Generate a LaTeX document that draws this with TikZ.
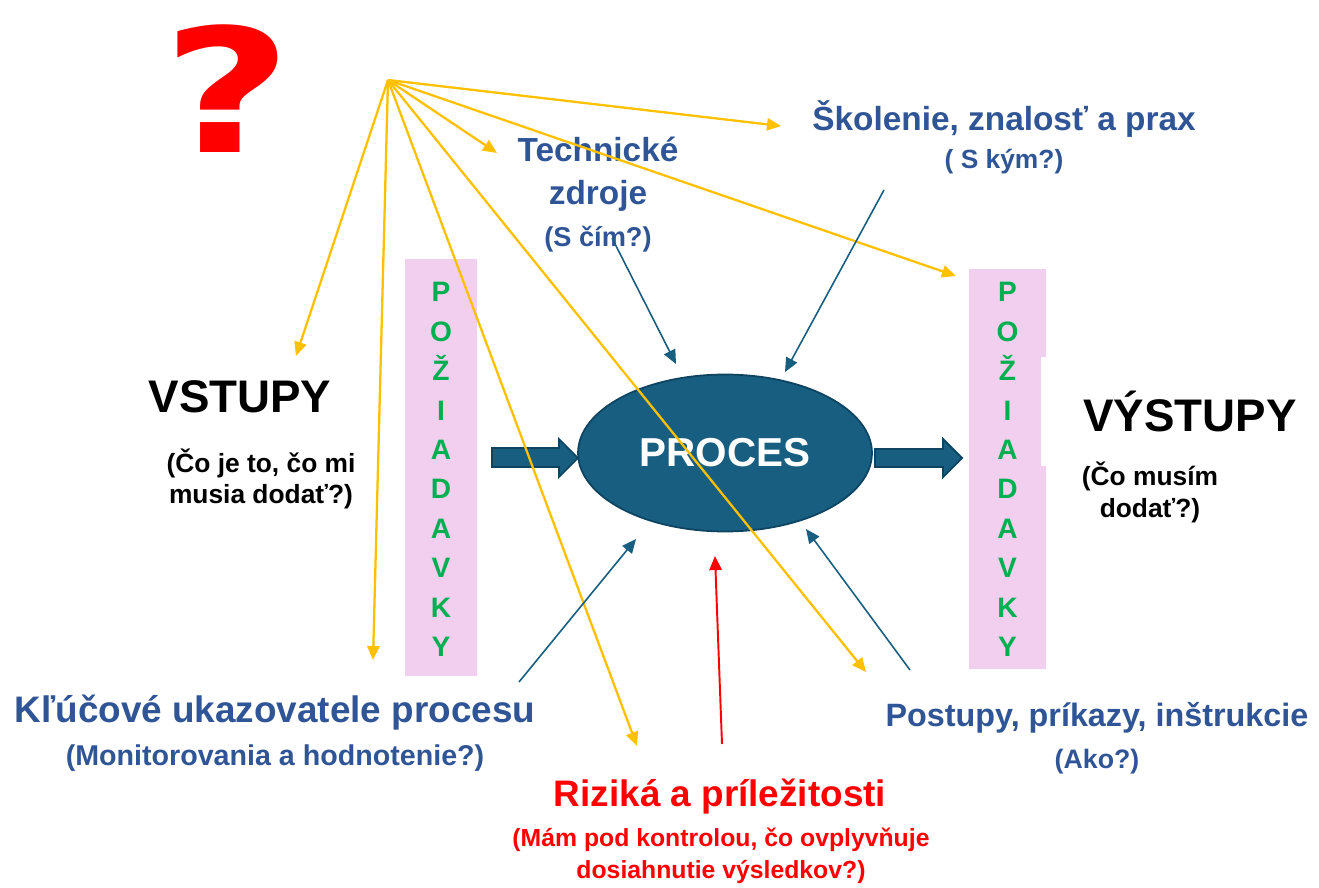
\documentclass[tikz,border=0pt]{standalone}
\usepackage{fontspec}
\setmainfont{Liberation Sans}
\newfontfamily\qmfont{DejaVu Sans}
\usetikzlibrary{arrows.meta,shapes.geometric}
\definecolor{txtblue}{HTML}{2F5597}
\definecolor{reqgreen}{HTML}{00B050}
\definecolor{reqpink}{HTML}{F2CFEE}
\definecolor{fanyellow}{HTML}{FFC000}
\definecolor{procfill}{HTML}{175E80}
\definecolor{procline}{HTML}{0E4461}
\newcommand{\fsz}[2]{\bfseries\fontsize{#1}{#2}\selectfont}
\begin{document}
\begin{tikzpicture}[x=0.02cm,y=-0.02cm,
 lbl/.style={anchor=base,inner sep=0pt,align=center},
 fan/.style={draw=fanyellow,line width=1.3pt,-{Triangle[length=8pt,width=7pt]}},
 feed/.style={draw=procfill,line width=0.9pt,-{Triangle[length=8pt,width=7pt]}},
 blk/.style={fill=procfill,draw=procline,line width=1pt},
 reqbox/.style={fill=reqpink,inner sep=0pt}]
\useasboundingbox (0,0) rectangle (1319,888);
\node[lbl,red,xscale=1.3,font=\qmfont\fsz{98}{98}] (qm) at (227,153) {?};
\node[lbl,font=\fsz{26}{31}] (in) at (240,413) {VSTUPY};
\node[lbl,font=\fsz{15}{17.6}] (inq) at (261,503) {(Čo je to, čo mi\\musia dodať?)};
\node[lbl,font=\fsz{26}{31}] (out) at (1190,432) {VÝSTUPY};
\node[lbl,font=\fsz{15}{18.7}] (outq) at (1150,518) {(Čo musím\\dodať?)};
\node[lbl,txtblue,font=\fsz{19}{24.5}] (tech) at (598,205) {Technické\\zdroje};
\node[lbl,txtblue,font=\fsz{15.5}{18}] (techq) at (598,247) {(S čím?)};
\node[lbl,txtblue,font=\fsz{19}{23}] (skol) at (1004,131) {Školenie, znalosť a prax};
\node[lbl,txtblue,font=\fsz{15}{18}] (skolq) at (1004,169) {( S kým?)};
\node[lbl,txtblue,font=\fsz{21}{25}] (kpi) at (275,722) {Kľúčové ukazovatele procesu};
\node[lbl,txtblue,font=\fsz{16.3}{19}] (kpiq) at (275,765) {(Monitorovania a hodnotenie?)};
\node[lbl,red,font=\fsz{21}{25}] (risk) at (720,806) {Riziká a príležitosti};
\node[lbl,red,font=\fsz{14.1}{18.1}] (riskq) at (721,878) {(Mám pod kontrolou, čo ovplyvňuje\\dosiahnutie výsledkov?)};
\node[lbl,txtblue,font=\fsz{18.4}{22}] (post) at (1097,726) {Postupy, príkazy, inštrukcie};
\node[lbl,txtblue,font=\fsz{15.2}{18}] (postq) at (1097,768) {(Ako?)};
\node[reqbox,minimum width=1.44cm,minimum height=8.34cm] (reqL) at (441,467.5) {};
\node[reqbox,minimum width=1.54cm,minimum height=8cm] (reqR) at (1007.5,469) {};
\fill[white] (1041,357) rectangle (1046,466);
\foreach \c [count=\i from 0] in {P,O,Ž,I,A,D,A,V,K,Y} {
 \node[lbl,reqgreen,font=\fsz{16}{19}] (reqL\i) at (441,302+39.4*\i) {\c};
 \node[lbl,reqgreen,font=\fsz{16}{19}] (reqR\i) at (1007.5,302+39.4*\i) {\c};
}
\draw[blk] (492,448) -- (559,448) -- (559,439) -- (578,458) -- (559,477) -- (559,467) -- (492,467) -- cycle;
\draw[blk] (875,449) -- (943,449) -- (943,439) -- (962,458) -- (943,477) -- (943,467) -- (875,467) -- cycle;
\node[ellipse,fill=procfill,draw=procline,line width=1pt,minimum width=5.88cm,minimum height=3.14cm,inner sep=0pt,text=white,font=\fsz{23}{27}] (proc) at (725,453) {PROCES};
\coordinate (hub) at (388,80);
\coordinate (yIn) at (296,356);
\coordinate (yKpi) at (373,660);
\coordinate (yTech) at (497,153);
\coordinate (ySkol) at (781,126);
\coordinate (yReq) at (956,276);
\coordinate (yRisk) at (637,746);
\coordinate (yPost) at (866,672);
\foreach \p in {yIn,yKpi,yTech,ySkol,yReq,yRisk,yPost}
 \draw[fan] (hub) -- (\p);
\coordinate (fTech) at (612,238);
\coordinate (fSkol) at (884,190);
\coordinate (fKpi) at (519,682);
\coordinate (fPost) at (910,670);
\coordinate (fRisk) at (722,744);
\draw[feed] (fTech) -- (676,364);
\draw[feed] (fSkol) -- (785,372);
\draw[feed] (fKpi) -- (636,539);
\draw[feed] (fPost) -- (806,529);
\draw[red,line width=1.1pt,-{Triangle[length=8pt,width=7pt]}] (fRisk) -- (715,556);
\end{tikzpicture}
\end{document}
